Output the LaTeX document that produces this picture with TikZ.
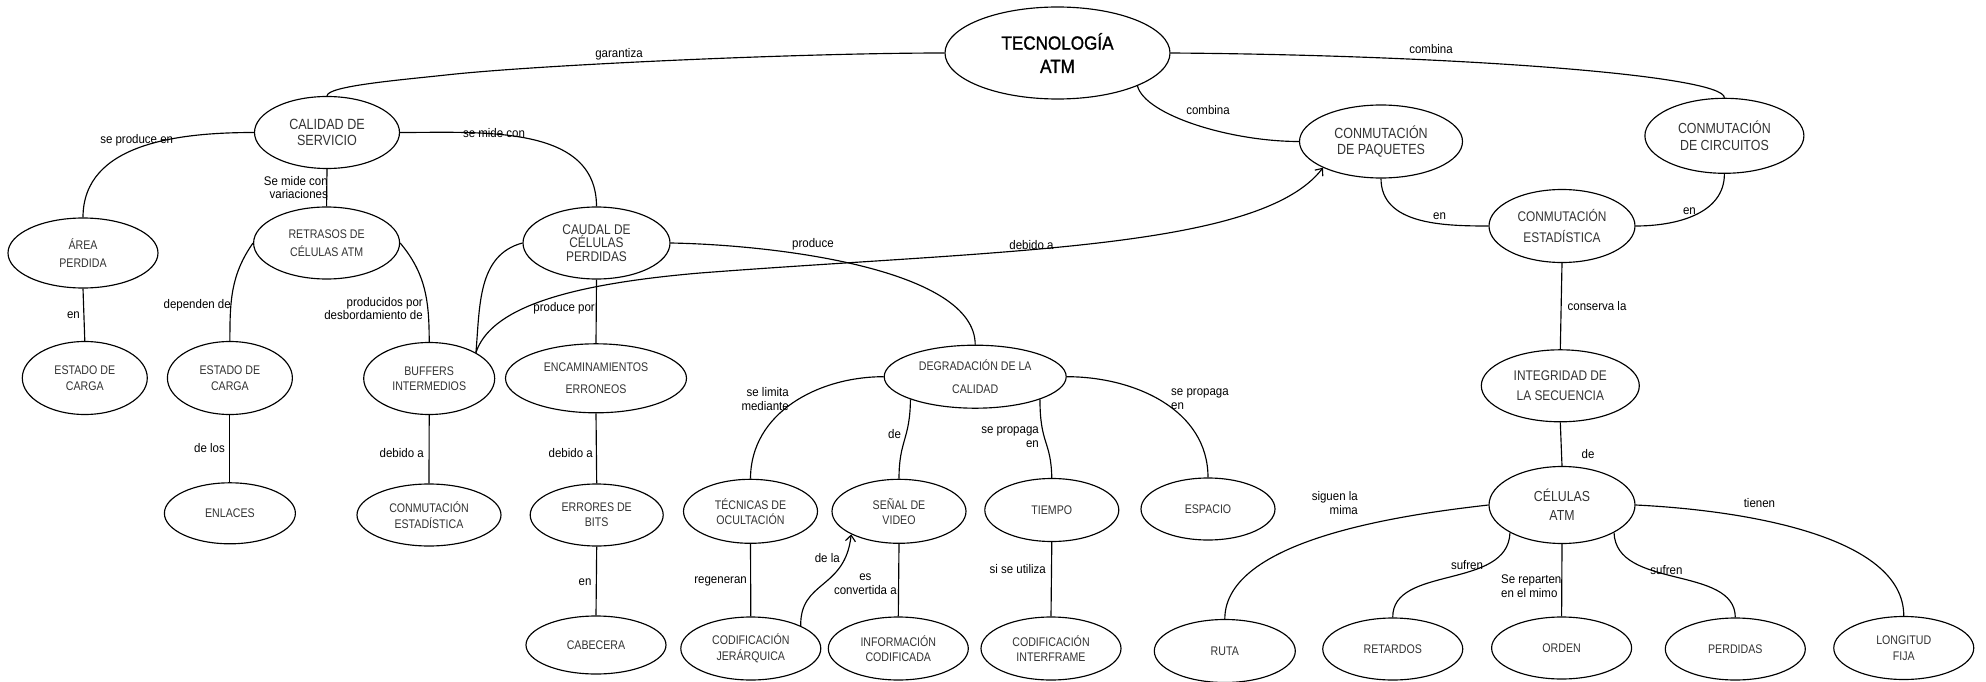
\documentclass[tikz,border=0pt]{standalone}
\usepackage{fontspec}
\setmainfont{Liberation Sans}
\newfontfamily\conceptfont{Liberation Sans}[FakeStretch=0.85]
\newfontfamily\linkfont{Liberation Sans}[FakeStretch=0.92]
\newfontfamily\titlefont{Liberation Sans}[FakeStretch=0.9,FakeBold=1.2]
\usetikzlibrary{shapes.geometric,arrows.meta}
\begin{document}
\begin{tikzpicture}[x=1pt,y=1pt,
  concept/.style 2 args={ellipse, draw, line width=1.15pt, inner sep=0pt,
    align=center, text=black!80, minimum width=#1pt, minimum height=#2pt,
    font=\conceptfont\fontsize{12.5}{15}\selectfont},
  fs/.style 2 args={font=\conceptfont\fontsize{#1}{#2}\selectfont},
  link/.style={font=\linkfont\fontsize{12.5}{13.5}\selectfont, inner sep=0pt, align=center},
  conn/.style={line width=1.15pt},
  arr/.style={-{Straight Barb[length=6pt,width=10pt]}}]

\fill[white] (0,0) rectangle (1986,-682);
\useasboundingbox (0,0) rectangle (1986,-682);

% ---------- concepts ----------
\node[concept={225}{92}, font=\titlefont\fontsize{19}{23.3}\selectfont, text=black] (tec) at (1057.5,-53) {TECNOLOGÍA\\ATM};
\node[concept={145}{72}, fs={14.8}{16}] (cal) at (327,-132.5) {CALIDAD DE\\SERVICIO};
\node[concept={150}{70}, fs={12.5}{18.7}] (area) at (83,-253) {ÁREA\\PERDIDA};
\node[concept={146}{72}, fs={12.5}{18.4}] (retr) at (326.6,-243) {RETRASOS DE\\CÉLULAS ATM};
\node[concept={147}{72}, fs={14}{13.8}] (caud) at (596.5,-243) {CAUDAL DE\\CÉLULAS\\PERDIDAS};
\node[concept={125}{73}, fs={12.5}{15.7}] (est1) at (84.8,-378) {ESTADO DE\\CARGA};
\node[concept={125}{73}, fs={12.5}{15.7}] (est2) at (229.9,-378) {ESTADO DE\\CARGA};
\node[concept={131}{72}] (buf) at (429.2,-378.5) {BUFFERS\\INTERMEDIOS};
\node[concept={181}{69}, fs={12.5}{22.3}] (enca) at (596,-378.3) {ENCAMINAMIENTOS\\ERRONEOS};
\node[concept={131}{61}] (enl) at (229.9,-513.3) {ENLACES};
\node[concept={144}{62}, fs={12.5}{15.3}] (cest1) at (429,-515) {CONMUTACIÓN\\ESTADÍSTICA};
\node[concept={133}{62}] (err) at (596.7,-515) {ERRORES DE\\BITS};
\node[concept={140}{58}] (cab) at (596,-645) {CABECERA};
\node[concept={182}{63}, fs={12.5}{22.3}] (deg) at (975.2,-376.7) {DEGRADACIÓN DE LA\\CALIDAD};
\node[concept={134}{64}] (tecn) at (750.5,-511.3) {TÉCNICAS DE\\OCULTACIÓN};
\node[concept={134}{64}] (sen) at (899,-511.3) {SEÑAL DE\\VIDEO};
\node[concept={134}{63}] (tiem) at (1051.8,-510) {TIEMPO};
\node[concept={134}{62}] (esp) at (1208,-509) {ESPACIO};
\node[concept={140}{63}, fs={12.5}{15.6}] (cj) at (750.8,-648.5) {CODIFICACIÓN\\JERÁRQUICA};
\node[concept={140}{63}, fs={12.5}{15.6}] (info) at (898.3,-648.5) {INFORMACIÓN\\CODIFICADA};
\node[concept={140}{63}, fs={12.5}{15.6}] (cint) at (1051,-648.5) {CODIFICACIÓN\\INTERFRAME};
\node[concept={141}{63}] (ruta) at (1224.8,-651) {RUTA};
\node[concept={163}{73}, fs={14.7}{16.7}] (paq) at (1381,-141.5) {CONMUTACIÓN\\DE PAQUETES};
\node[concept={159}{75}, fs={14.6}{16.7}] (circ) at (1724.4,-135.8) {CONMUTACIÓN\\DE CIRCUITOS};
\node[concept={146}{73}, fs={14}{20.7}] (cest2) at (1562,-226) {CONMUTACIÓN\\ESTADÍSTICA};
\node[concept={158}{72}, fs={14}{19.3}] (integ) at (1560.3,-385.8) {INTEGRIDAD DE\\LA SECUENCIA};
\node[concept={146}{77}, fs={14.5}{19.3}] (cel) at (1562,-505) {CÉLULAS\\ATM};
\node[concept={140}{62}] (retd) at (1392.75,-649) {RETARDOS};
\node[concept={140}{62}] (ord) at (1561.6,-648) {ORDEN};
\node[concept={140}{62}] (perd) at (1735.3,-649) {PERDIDAS};
\node[concept={140}{63}, fs={12.5}{15.7}] (long) at (1903.75,-648) {LONGITUD\\FIJA};

% ---------- connectors ----------
\begin{scope}[conn]
\draw (cal.north) .. controls (327,-86) and (400,-80) .. (446,-75)
      .. controls (536,-65) and (800,-53) .. (tec.west);
\draw (tec.east) .. controls (1450,-55) and (1724,-75) .. (circ.north);
\draw (tec.south east) .. controls (1145,-115) and (1230,-141.5) .. (paq.west);
\draw (cal.west) to[out=180,in=90] (area.north);
\draw (cal.east) to[out=0,in=90] (caud.north);
\draw (cal.south) -- (retr.north);
\draw (retr.west) to[out=235,in=90] (est2.north);
\draw (retr.east) to[out=-50,in=90] (buf.north);
\draw (caud.west) to[out=195,in=85] (buf.north east);
\draw[arr] (buf.north east) .. controls (490,-310) and (560,-285) .. (700,-273)
      .. controls (1000,-250) and (1260,-250) .. (paq.south west);
\draw (caud.east) .. controls (780,-245) and (975,-270) .. (deg.north);
\draw (caud.south) -- (enca.north);
\draw (enca.south) -- (err.north);
\draw (err.south) -- (cab.north);
\draw (area.south) -- (est1.north);
\draw (est2.south) -- (enl.north);
\draw (buf.south) -- (cest1.north);
\draw (deg.west) to[out=180,in=90] (tecn.north);
\draw (deg.south west) .. controls (910,-440) and (899,-440) .. (sen.north);
\draw (deg.south east) .. controls (1040,-445) and (1051,-440) .. (tiem.north);
\draw (deg.east) to[out=0,in=90] (esp.north);
\draw (tecn.south) -- (cj.north);
\draw (sen.south) -- (info.north);
\draw (tiem.south) -- (cint.north);
\draw[arr] (cj.north east) .. controls (800,-580) and (845,-590) .. (sen.south west);
\draw (paq.south) to[out=-90,in=180] (cest2.west);
\draw (circ.south) to[out=-90,in=0] (cest2.east);
\draw (cest2.south) -- (integ.north);
\draw (integ.south) -- (cel.north);
\draw (cel.west) .. controls (1400,-515) and (1225,-540) .. (ruta.north);
\draw (cel.south west) .. controls (1508,-590) and (1392,-565) .. (retd.north);
\draw (cel.south) -- (ord.north);
\draw (cel.south east) .. controls (1616,-590) and (1735,-565) .. (perd.north);
\draw (cel.east) .. controls (1740,-510) and (1904,-535) .. (long.north);
\end{scope}

% ---------- linking phrases ----------
\node[link] (l1) at (619,-54) {garantiza};
\node[link] (l2) at (1431,-49) {combina};
\node[link] (l3) at (1208,-110) {combina};
\node[link] (l4) at (136.7,-140) {se produce en};
\node[link] (l5) at (494,-133) {se mide con};
\node[link, anchor=east, align=right] (l6) at (328,-187.5) {Se mide con\\variaciones};
\node[link, anchor=east] (l7) at (231,-305) {dependen de};
\node[link, anchor=east, align=right] (l8) at (423,-308.4) {producidos por\\desbordamiento de};
\node[link] (l9) at (73.5,-315) {en};
\node[link, anchor=east] (l10) at (595,-308) {produce por};
\node[link] (l11) at (813,-244) {produce};
\node[link] (l12) at (1031.5,-245) {debido a};
\node[link] (l13) at (1439.6,-216) {en};
\node[link] (l14) at (1689.4,-210.7) {en};
\node[link] (l15) at (1597,-306) {conserva la};
\node[link, anchor=east] (l16) at (225,-448) {de los};
\node[link, anchor=east] (l17) at (424,-452.7) {debido a};
\node[link, anchor=east] (l18) at (593,-452.7) {debido a};
\node[link] (l19) at (585,-581.7) {en};
\node[link, anchor=east, align=right] (l20) at (789,-399) {se limita\\mediante};
\node[link] (l21) at (894.6,-434.3) {de};
\node[link, anchor=east, align=right] (l22) at (1039,-437) {se propaga\\en};
\node[link, anchor=west, align=left] (l23) at (1171,-399) {se propaga\\en};
\node[link, anchor=east] (l24) at (747,-581.7) {regeneran};
\node[link] (l25) at (827.3,-558.3) {de la};
\node[link] (l26) at (865.4,-584.3) {es\\convertida a};
\node[link, anchor=east] (l27) at (1046,-569.3) {si se utiliza};
\node[link, anchor=east, align=right] (l28) at (1358,-503) {siguen la\\mima};
\node[link] (l29) at (1759.4,-503.3) {tienen};
\node[link] (l30) at (1467,-565) {sufren};
\node[link, anchor=west, align=left] (l31) at (1501,-586) {Se reparten\\en el mimo};
\node[link] (l32) at (1666.4,-570) {sufren};
\node[link] (l33) at (1588,-454) {de};
\end{tikzpicture}
\end{document}
